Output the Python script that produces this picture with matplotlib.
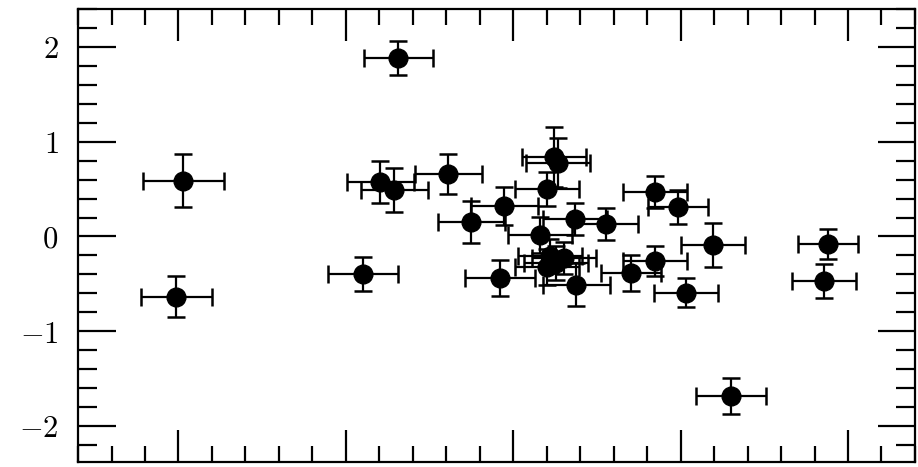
import matplotlib
matplotlib.use("Agg")
import matplotlib.pyplot as plt
from matplotlib.ticker import MultipleLocator, FixedLocator, FixedFormatter

# values (arbitrary x units, majors at 0..4)
x = [0.030, -0.012, 1.104, 1.313, 1.206, 1.290, 1.612, 1.749, 1.922, 1.946,
     2.161, 2.203, 2.245, 2.269, 2.370, 2.555, 2.221, 2.304, 2.203, 2.257,
     2.376, 2.704, 2.848, 2.848, 2.985, 3.033, 3.194, 3.301, 3.881, 3.857]
y = [0.586, -0.635, -0.393, 1.881, 0.576, 0.491, 0.660, 0.155, -0.435, 0.323,
     0.018, 0.502, 0.839, 0.776, 0.186, 0.134, -0.203, -0.224, -0.319, -0.277,
     -0.508, -0.382, 0.471, -0.256, 0.313, -0.593, -0.088, -1.682, -0.077, -0.466]
xerr = [0.24, 0.21, 0.21, 0.205, 0.20, 0.20, 0.20, 0.20, 0.21, 0.20,
        0.19, 0.19, 0.19, 0.19, 0.19, 0.19, 0.19, 0.19, 0.19, 0.19,
        0.20, 0.18, 0.19, 0.19, 0.18, 0.19, 0.19, 0.21, 0.18, 0.19]
yerr = [0.28, 0.22, 0.18, 0.18, 0.22, 0.23, 0.21, 0.22, 0.19, 0.20,
        0.19, 0.18, 0.32, 0.26, 0.17, 0.17, 0.18, 0.17, 0.19, 0.18,
        0.23, 0.19, 0.17, 0.16, 0.18, 0.15, 0.23, 0.19, 0.16, 0.18]
ytick_vals = [-2, -1, 0, 1, 2]
ytick_labels = [r"$-2$", r"$-1$", r"$0$", r"$1$", r"$2$"]

plt.rcParams['mathtext.fontset'] = 'cm'

fig = plt.figure(figsize=(9.18, 4.67), dpi=100)
ax = fig.add_axes([0.085, 0.0107, 0.9117, 0.97])

ax.errorbar(x, y, xerr=xerr, yerr=yerr, fmt='o', color='black',
            markersize=13.5, elinewidth=1.6, capsize=6.5, capthick=1.8)

ax.set_xlim(-0.6, 4.4)
ax.set_ylim(-2.38, 2.4)

ax.xaxis.set_major_locator(MultipleLocator(1))
ax.xaxis.set_minor_locator(MultipleLocator(0.2))
ax.yaxis.set_major_locator(FixedLocator(ytick_vals))
ax.yaxis.set_major_formatter(FixedFormatter(ytick_labels))
ax.yaxis.set_minor_locator(MultipleLocator(0.2))

ax.tick_params(axis='both', which='both', direction='in',
               top=True, bottom=True, left=True, right=True, width=1.6)
ax.tick_params(axis='x', which='major', length=23, labelbottom=False)
ax.tick_params(axis='x', which='minor', length=11.5)
ax.tick_params(axis='y', which='major', length=27, labelsize=22, pad=14)
ax.tick_params(axis='y', which='minor', length=13.5)

for s in ax.spines.values():
    s.set_linewidth(1.6)

fig.savefig("out.png", dpi=100)
